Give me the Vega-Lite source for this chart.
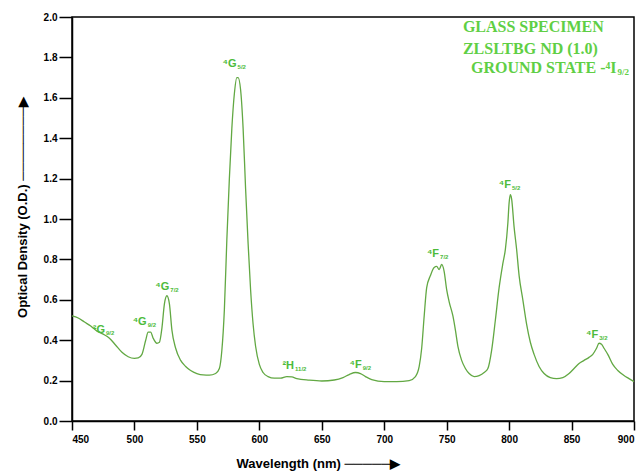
{
  "$schema": "https://vega.github.io/schema/vega-lite/v6.json",
  "autosize": {"type": "none"},
  "width": 562,
  "height": 404,
  "padding": {"left": 72, "top": 17, "right": 7, "bottom": 53},
  "background": "white",
  "config": {
    "view": {"stroke": "black", "strokeWidth": 1.5},
    "axis": {
      "domainColor": "black", "domainWidth": 1.5, "tickColor": "black", "tickWidth": 1.5,
      "labelFont": "Liberation Sans", "labelFontWeight": "bold", "labelFontSize": 10, "labelColor": "black",
      "titleFont": "Liberation Sans", "titleFontWeight": "bold", "titleFontSize": 13, "titleColor": "black",
      "grid": false
    }
  },
  "datasets": {
    "spectrum": [
      {"w": 450, "od": 0.52}, {"w": 455, "od": 0.51}, {"w": 460, "od": 0.49}, {"w": 465, "od": 0.47},
      {"w": 470, "od": 0.445}, {"w": 475, "od": 0.43}, {"w": 480, "od": 0.41}, {"w": 485, "od": 0.375},
      {"w": 490, "od": 0.34}, {"w": 495, "od": 0.318}, {"w": 500, "od": 0.31}, {"w": 503, "od": 0.312},
      {"w": 506, "od": 0.33}, {"w": 509, "od": 0.4}, {"w": 511, "od": 0.44}, {"w": 513, "od": 0.44},
      {"w": 515, "od": 0.41}, {"w": 518, "od": 0.385}, {"w": 520, "od": 0.39}, {"w": 522, "od": 0.46},
      {"w": 524, "od": 0.58}, {"w": 526, "od": 0.62}, {"w": 528, "od": 0.58}, {"w": 530, "od": 0.45},
      {"w": 533, "od": 0.36}, {"w": 537, "od": 0.3}, {"w": 541, "od": 0.27}, {"w": 545, "od": 0.25},
      {"w": 550, "od": 0.235}, {"w": 555, "od": 0.228}, {"w": 560, "od": 0.227}, {"w": 565, "od": 0.235},
      {"w": 568, "od": 0.26}, {"w": 570, "od": 0.35}, {"w": 572, "od": 0.55}, {"w": 574, "od": 0.9},
      {"w": 576, "od": 1.2}, {"w": 578, "od": 1.45}, {"w": 580, "od": 1.62}, {"w": 582, "od": 1.7},
      {"w": 583, "od": 1.7}, {"w": 585, "od": 1.64}, {"w": 587, "od": 1.45}, {"w": 589, "od": 1.15},
      {"w": 591, "od": 0.88}, {"w": 593, "od": 0.65}, {"w": 595, "od": 0.48}, {"w": 597, "od": 0.37},
      {"w": 600, "od": 0.28}, {"w": 603, "od": 0.24}, {"w": 607, "od": 0.22}, {"w": 612, "od": 0.212},
      {"w": 617, "od": 0.212}, {"w": 622, "od": 0.22}, {"w": 626, "od": 0.218}, {"w": 630, "od": 0.21},
      {"w": 640, "od": 0.202}, {"w": 650, "od": 0.198}, {"w": 660, "od": 0.203}, {"w": 667, "od": 0.215},
      {"w": 672, "od": 0.23}, {"w": 677, "od": 0.24}, {"w": 681, "od": 0.235}, {"w": 685, "od": 0.22},
      {"w": 690, "od": 0.205}, {"w": 700, "od": 0.195}, {"w": 710, "od": 0.195}, {"w": 720, "od": 0.2},
      {"w": 725, "od": 0.22}, {"w": 728, "od": 0.27}, {"w": 730, "od": 0.36}, {"w": 732, "od": 0.52},
      {"w": 734, "od": 0.66}, {"w": 737, "od": 0.72}, {"w": 740, "od": 0.76}, {"w": 742, "od": 0.765},
      {"w": 744, "od": 0.75}, {"w": 746, "od": 0.775}, {"w": 748, "od": 0.74}, {"w": 750, "od": 0.65},
      {"w": 752, "od": 0.59}, {"w": 755, "od": 0.52}, {"w": 757, "od": 0.45}, {"w": 759, "od": 0.37},
      {"w": 762, "od": 0.3}, {"w": 765, "od": 0.26}, {"w": 768, "od": 0.235}, {"w": 772, "od": 0.22},
      {"w": 776, "od": 0.225}, {"w": 780, "od": 0.24}, {"w": 783, "od": 0.26}, {"w": 786, "od": 0.35},
      {"w": 789, "od": 0.5}, {"w": 792, "od": 0.66}, {"w": 795, "od": 0.78}, {"w": 797, "od": 0.85},
      {"w": 799, "od": 0.98}, {"w": 800, "od": 1.08}, {"w": 801, "od": 1.12}, {"w": 802, "od": 1.1},
      {"w": 804, "od": 0.96}, {"w": 806, "od": 0.85}, {"w": 808, "od": 0.72}, {"w": 811, "od": 0.6},
      {"w": 814, "od": 0.48}, {"w": 817, "od": 0.39}, {"w": 820, "od": 0.33}, {"w": 824, "od": 0.27},
      {"w": 828, "od": 0.235}, {"w": 833, "od": 0.215}, {"w": 838, "od": 0.21}, {"w": 843, "od": 0.215},
      {"w": 848, "od": 0.235}, {"w": 852, "od": 0.26}, {"w": 856, "od": 0.285}, {"w": 860, "od": 0.3},
      {"w": 864, "od": 0.315}, {"w": 867, "od": 0.33}, {"w": 870, "od": 0.36}, {"w": 872, "od": 0.385},
      {"w": 874, "od": 0.38}, {"w": 876, "od": 0.36}, {"w": 879, "od": 0.33}, {"w": 883, "od": 0.28},
      {"w": 887, "od": 0.25}, {"w": 892, "od": 0.225}, {"w": 896, "od": 0.21}, {"w": 900, "od": 0.195}
    ],
    "labels": [
      {"w": 476.4, "od": 0.437, "main": "²G", "sub": "9/2"},
      {"w": 509.8, "od": 0.475, "main": "⁴G", "sub": "9/2"},
      {"w": 527.9, "od": 0.648, "main": "⁴G", "sub": "7/2"},
      {"w": 581.8, "od": 1.751, "main": "⁴G", "sub": "5/2"},
      {"w": 627.8, "od": 0.256, "main": "²H", "sub": "11/2"},
      {"w": 682.0, "od": 0.261, "main": "⁴F", "sub": "9/2"},
      {"w": 743.9, "od": 0.81, "main": "⁴F", "sub": "7/2"},
      {"w": 801.5, "od": 1.152, "main": "⁴F", "sub": "5/2"},
      {"w": 871.4, "od": 0.409, "main": "⁴F", "sub": "3/2"}
    ],
    "header": [
      {"w": 763, "od": 1.926, "text": "GLASS SPECIMEN"},
      {"w": 763, "od": 1.817, "text": "ZLSLTBG ND (1.0)"}
    ],
    "headerLast": [
      {"w": 886, "od": 1.723, "main": "GROUND STATE -⁴I", "sub": "9/2"}
    ]
  },
  "encoding": {
    "x": {"field": "w", "type": "quantitative",
      "scale": {"domain": [450, 900], "nice": false, "zero": false},
      "axis": {"values": [450, 500, 550, 600, 650, 700, 750, 800, 850, 900], "format": "d",
        "tickSize": 9, "labelPadding": 4, "title": "Wavelength (nm)  ─────▶",
        "titleX": 246, "titlePadding": 13}},
    "y": {"field": "od", "type": "quantitative",
      "scale": {"domain": [0, 2], "nice": false},
      "axis": {"values": [0, 0.2, 0.4, 0.6, 0.8, 1.0, 1.2, 1.4, 1.6, 1.8, 2.0], "format": ".1f",
        "tickSize": 13, "labelPadding": 2, "title": "Optical Density (O.D.)     ────────▶",
        "titleY": 190, "titlePadding": 14}}
  },
  "layer": [
    {"data": {"name": "spectrum"},
     "mark": {"type": "line", "color": "#62a843", "strokeWidth": 1.3, "interpolate": "monotone"}},
    {"data": {"name": "labels"},
     "mark": {"type": "text", "align": "right", "baseline": "alphabetic", "font": "Liberation Sans", "fontWeight": "bold", "fontSize": 11, "color": "#4dbb3a"},
     "encoding": {"text": {"field": "main"}}},
    {"data": {"name": "labels"},
     "mark": {"type": "text", "align": "left", "baseline": "alphabetic", "dx": 1, "dy": 2, "font": "Liberation Sans", "fontWeight": "bold", "fontSize": 6, "color": "#4dbb3a"},
     "encoding": {"text": {"field": "sub"}}},
    {"data": {"name": "header"},
     "mark": {"type": "text", "align": "left", "baseline": "alphabetic", "font": "'Liberation Serif', 'DejaVu Serif', serif", "fontWeight": "bold", "fontSize": 16, "color": "#5fcf45"},
     "encoding": {"text": {"field": "text"}}},
    {"data": {"name": "headerLast"},
     "mark": {"type": "text", "align": "right", "baseline": "alphabetic", "font": "'Liberation Serif', 'DejaVu Serif', serif", "fontWeight": "bold", "fontSize": 16, "color": "#5fcf45"},
     "encoding": {"text": {"field": "main"}}},
    {"data": {"name": "headerLast"},
     "mark": {"type": "text", "align": "left", "baseline": "alphabetic", "dx": 1, "dy": 2, "font": "'Liberation Serif', 'DejaVu Serif', serif", "fontWeight": "bold", "fontSize": 9, "color": "#5fcf45"},
     "encoding": {"text": {"field": "sub"}}}
  ]
}
